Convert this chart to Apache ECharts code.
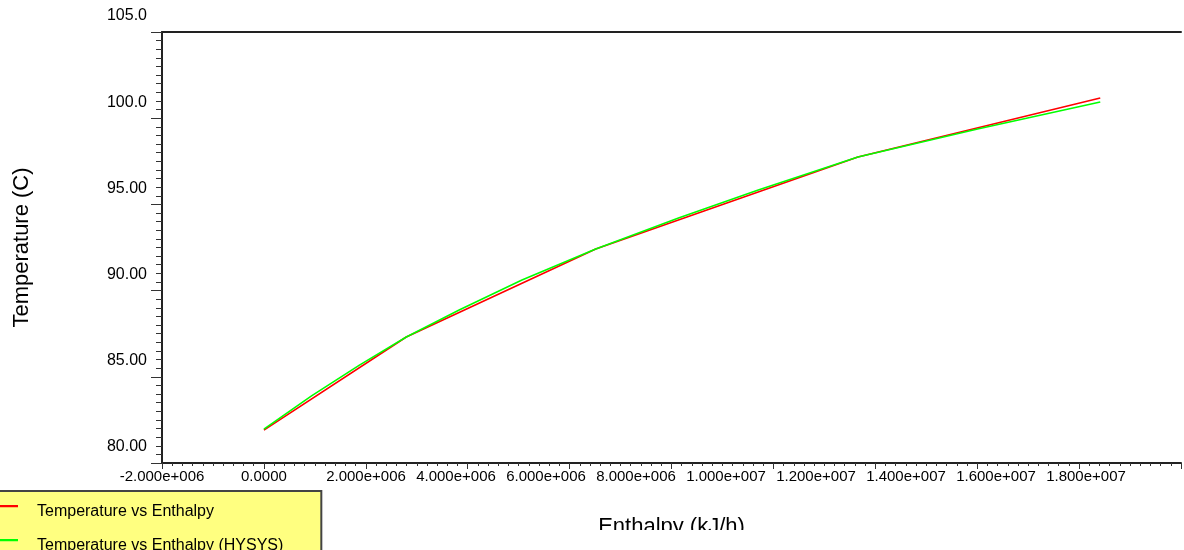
<!DOCTYPE html>
<html>
<head>
<meta charset="utf-8">
<script src="https://cdn.jsdelivr.net/npm/echarts@6/dist/echarts.min.js"></script>
<style>html,body{margin:0;padding:0;background:#fff;}#c{width:1184px;height:550px;}</style>
</head>
<body>
<div id="c"></div>
<script>
// Series names
const seriesNames = ["Temperature vs Enthalpy", "Temperature vs Enthalpy (HYSYS)"];
// Red series: Temperature vs Enthalpy
const redEnthalpy = [0, 2.795e6, 6.513e6, 11.659e6, 16.415e6];
const redTemp     = [81.91, 87.31, 92.41, 97.75, 101.17];
// Green series: Temperature vs Enthalpy (HYSYS)
const greenEnthalpy = [0, 0.935e6, 1.875e6, 2.795e6, 3.832e6, 5.065e6, 6.513e6, 8.137e6, 9.703e6, 11.659e6, 14.008e6, 16.415e6];
const greenTemp     = [81.97, 83.89, 85.68, 87.31, 88.87, 90.61, 92.41, 94.21, 95.84, 97.75, 99.37, 100.94];
// Axis ranges / tick steps
const xRange = [-2e6, 1.8e7];
const xStep = 2e6;
const yRange = [80, 105];
const yStep = 5;
const axisTitles = {x: "Enthalpy (kJ/h)", y: "Temperature (C)"};

function fmtX(v) {
  if (v === 0) return "0.0000";
  const e = Math.floor(Math.log10(Math.abs(v)) + 1e-9);
  const m = v / Math.pow(10, e);
  return m.toFixed(3) + "e+" + String(e).padStart(3, "0");
}
function fmtY(v) { return v >= 100 ? v.toFixed(1) : v.toFixed(2); }

const FONT = "'Liberation Sans', Arial, sans-serif";
const chart = echarts.init(document.getElementById("c"), null, {renderer: "canvas"});
const zip = (a, b) => a.map((x, i) => [x, b[i]]);
// short line on the left of a 32x14 icon box
const lineIcon = "path://M0,4H18V5.6H0Z M31.99,13.99H32V14H31.99Z";

chart.setOption({
  animation: false,
  backgroundColor: "#ffffff",
  textStyle: {fontFamily: FONT},
  grid: [
    {left: 162, right: 0, top: 32, bottom: 87, show: false},
    {left: 276, right: 8, top: 32, bottom: 87, show: false}
  ],
  xAxis: [
    {
      gridIndex: 0, type: "value", min: xRange[0], max: xRange[1], interval: xStep,
      axisLine: {show: true, onZero: false, lineStyle: {color: "#222", width: 2}},
      axisTick: {show: true, length: 6, lineStyle: {color: "#333", width: 1}},
      minorTick: {show: true, splitNumber: 10, length: 3, lineStyle: {color: "#333", width: 1}},
      splitLine: {show: false},
      axisLabel: {
        show: true, margin: 6, fontSize: 15, color: "#000", fontFamily: FONT,
        formatter: v => (v <= 0 ? fmtX(v) : "")
      },
      name: axisTitles.x, nameLocation: "middle", nameGap: 53,
      nameTextStyle: {fontSize: 22, color: "#000", fontFamily: FONT}
    },
    {
      gridIndex: 1, type: "value", min: 0, max: 2e7, interval: xStep,
      axisLine: {show: false}, axisTick: {show: false}, splitLine: {show: false},
      axisLabel: {
        show: true, margin: 6, fontSize: 15, color: "#000", fontFamily: FONT,
        showMaxLabel: false,
        formatter: v => (v > 0 && v <= xRange[1] ? fmtX(v) : "")
      }
    },
    {
      gridIndex: 0, type: "value", position: "top", min: xRange[0], max: xRange[1], interval: xStep,
      axisLine: {show: true, onZero: false, lineStyle: {color: "#222", width: 2}},
      axisTick: {show: false}, axisLabel: {show: false}, splitLine: {show: false}
    }
  ],
  yAxis: [
    {
      gridIndex: 0, type: "value", min: yRange[0], max: yRange[1], interval: yStep,
      axisLine: {show: true, onZero: false, lineStyle: {color: "#222", width: 2}},
      axisTick: {show: true, length: 11, lineStyle: {color: "#333", width: 1}},
      minorTick: {show: true, splitNumber: 10, length: 6, lineStyle: {color: "#333", width: 1}},
      splitLine: {show: false},
      axisLabel: {
        show: true, margin: 15, fontSize: 16, color: "#000", fontFamily: FONT,
        verticalAlign: "bottom", lineHeight: 16, padding: [0, 0, 8, 0],
        formatter: fmtY
      },
      name: axisTitles.y, nameLocation: "middle", nameGap: 129, nameRotate: 90,
      nameTextStyle: {fontSize: 22, color: "#000", fontFamily: FONT}
    },
    {gridIndex: 1, type: "value", min: 0, max: 1, show: false}
  ],
  legend: {
    data: seriesNames.map(n => ({name: n, icon: lineIcon})),
    orient: "vertical",
    left: -12, top: 491, height: 120,
    padding: [13, 38, 10, 12],
    itemWidth: 32, itemHeight: 14, itemGap: 18,
    symbolKeepAspect: false,
    backgroundColor: "#FFFF80", borderColor: "#444", borderWidth: 2, borderRadius: 0,
    textStyle: {fontSize: 16, color: "#000", fontFamily: FONT},
    z: 20
  },
  graphic: [
    {type: "rect", left: 323, top: 530, shape: {width: 861, height: 20}, style: {fill: "#ffffff"}, z: 10, silent: true}
  ],
  series: [
    {
      name: seriesNames[0], type: "line", xAxisIndex: 0, yAxisIndex: 0,
      data: zip(redEnthalpy, redTemp), symbol: "none", smooth: false,
      lineStyle: {color: "#ff0000", width: 1.6}, itemStyle: {color: "#ff0000"}
    },
    {
      name: seriesNames[1], type: "line", xAxisIndex: 0, yAxisIndex: 0,
      data: zip(greenEnthalpy, greenTemp), symbol: "none", smooth: false,
      lineStyle: {color: "#00ff00", width: 1.6}, itemStyle: {color: "#00ff00"}
    },
    {
      type: "line", xAxisIndex: 1, yAxisIndex: 1, data: [], symbol: "none", silent: true
    }
  ]
});
</script>
</body>
</html>
